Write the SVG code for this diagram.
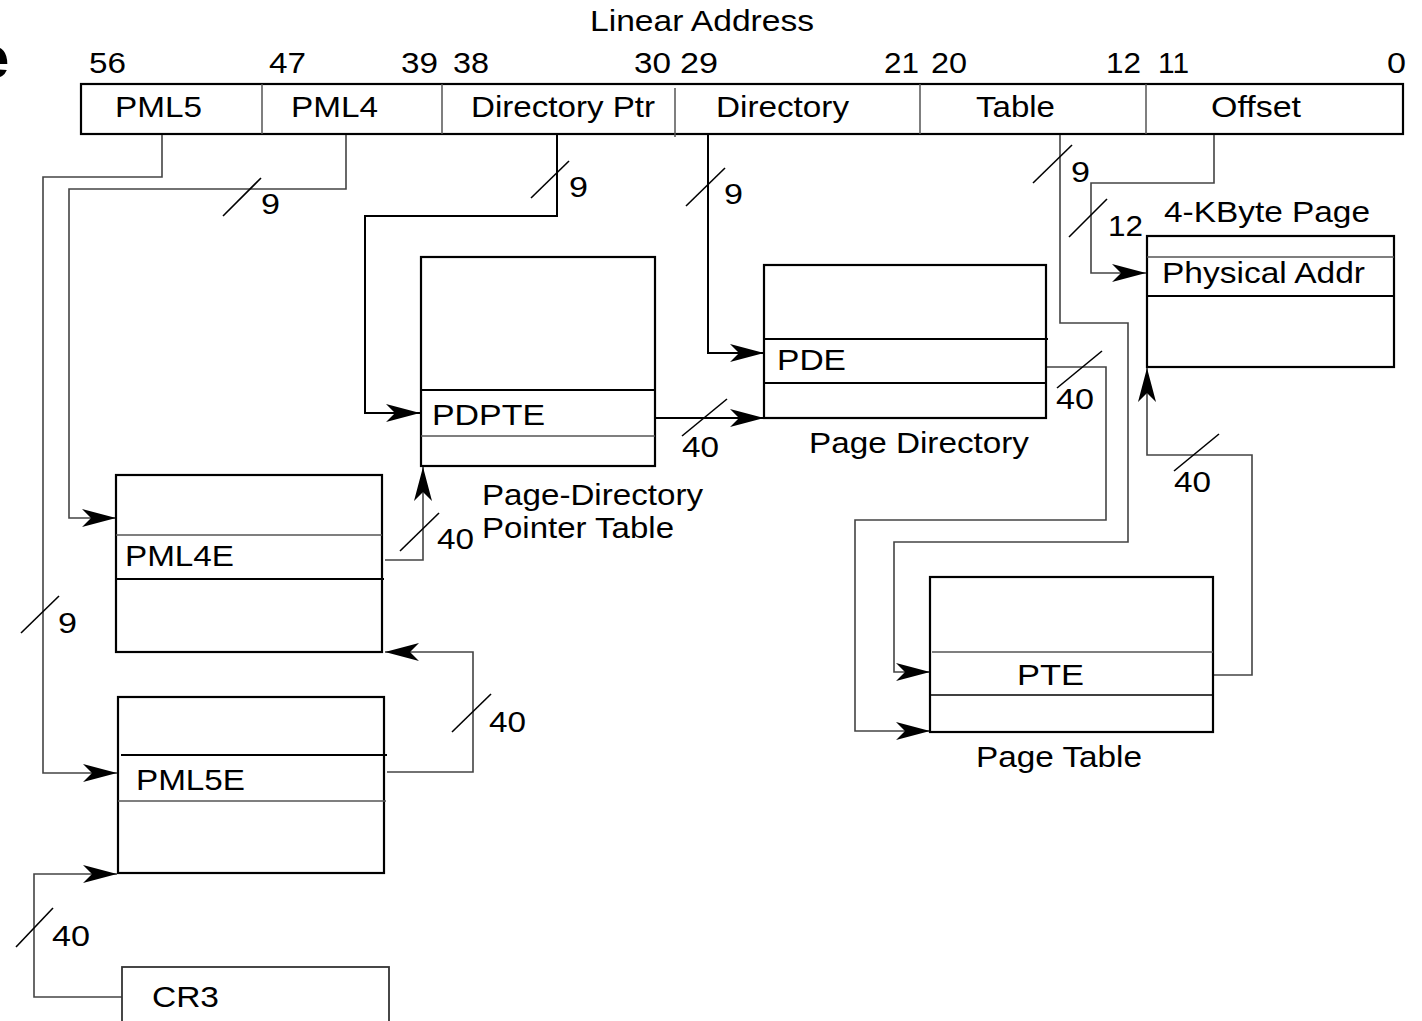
<svg xmlns="http://www.w3.org/2000/svg" width="1422" height="1021" viewBox="0 0 1422 1021">
<style>
  text { font-family: "Liberation Sans", Arial, sans-serif; font-size: 29px; fill: #000; }
  .box { fill: #fff; stroke: #000; stroke-width: 2.2; }
  .sep { stroke: #000; stroke-width: 2; }
  .sepg { stroke: #555; stroke-width: 1.5; }
  .wire { fill: none; stroke: #444; stroke-width: 1.6; }
  .wireb { fill: none; stroke: #000; stroke-width: 2; }
  .arr { marker-end: url(#ah); }
  .slash { stroke: #000; stroke-width: 1.6; }
</style>
<defs>
  <marker id="ah" markerUnits="userSpaceOnUse" markerWidth="36" markerHeight="20" viewBox="0 -10 36 20" refX="34" refY="0" orient="auto">
    <path d="M0,-9 L34,0 L0,9 L9,0 Z" fill="#000"/>
  </marker>
</defs>
<rect width="1422" height="1021" fill="#fff"/>

<text x="-24" y="78" style="font-size:60px;font-weight:bold">e</text>

<g id="linear-address">
  <text x="590" y="31" textLength="224" lengthAdjust="spacingAndGlyphs">Linear Address</text>
  <rect class="box" x="81" y="84" width="1322" height="50"/>
  <line class="sepg" x1="262" y1="84" x2="262" y2="134"/>
  <line class="sepg" x1="442" y1="84" x2="442" y2="134"/>
  <line class="sepg" x1="675" y1="88" x2="675" y2="137"/>
  <line class="sepg" x1="920" y1="84" x2="920" y2="134"/>
  <line class="sepg" x1="1146" y1="84" x2="1146" y2="134"/>
  <text x="89" y="73" textLength="37" lengthAdjust="spacingAndGlyphs">56</text>
  <text x="269" y="73" textLength="37" lengthAdjust="spacingAndGlyphs">47</text>
  <text x="401" y="73" textLength="37" lengthAdjust="spacingAndGlyphs">39</text>
  <text x="453" y="73" textLength="36" lengthAdjust="spacingAndGlyphs">38</text>
  <text x="634" y="73" textLength="37" lengthAdjust="spacingAndGlyphs">30</text>
  <text x="680" y="73" textLength="38" lengthAdjust="spacingAndGlyphs">29</text>
  <text x="884" y="73" textLength="35" lengthAdjust="spacingAndGlyphs">21</text>
  <text x="931" y="73" textLength="36" lengthAdjust="spacingAndGlyphs">20</text>
  <text x="1106" y="73" textLength="35" lengthAdjust="spacingAndGlyphs">12</text>
  <text x="1158" y="73" textLength="31" lengthAdjust="spacingAndGlyphs">11</text>
  <text x="1387" y="73" textLength="19" lengthAdjust="spacingAndGlyphs">0</text>
  <text x="115" y="117" textLength="87" lengthAdjust="spacingAndGlyphs">PML5</text>
  <text x="291" y="117" textLength="87" lengthAdjust="spacingAndGlyphs">PML4</text>
  <text x="471" y="117" textLength="184" lengthAdjust="spacingAndGlyphs">Directory Ptr</text>
  <text x="716" y="117" textLength="133" lengthAdjust="spacingAndGlyphs">Directory</text>
  <text x="976" y="117" textLength="79" lengthAdjust="spacingAndGlyphs">Table</text>
  <text x="1211" y="117" textLength="90" lengthAdjust="spacingAndGlyphs">Offset</text>
</g>

<g id="connectors">
  <path class="wire arr" d="M162,135 V177 H43 V773 H117"/>
  <path class="wire arr" d="M346,135 V189 H69 V518 H116"/>
  <path class="wireb arr" d="M557,135 V216 H365 V413 H420"/>
  <path class="wireb arr" d="M708,135 V353 H764"/>
  <path class="wire arr" d="M1060,135 V323 H1128 V542 H894 V672 H930"/>
  <path class="wire arr" d="M1214,135 V183 H1091 V273 H1146"/>
  <path class="wireb arr" d="M655,418 H764"/>
  <path class="wire arr" d="M1046,367 H1106 V520 H855 V731 H930"/>
  <path class="wire arr" d="M1213,675 H1252 V455 H1147 V368"/>
  <path class="wire arr" d="M385,560 H423 V467"/>
  <path class="wire arr" d="M387,772 H473 V652 H385"/>
  <path class="wire arr" d="M122,997 H34 V874 H117"/>

  <line class="slash" x1="223" y1="216" x2="261" y2="178"/>
  <line class="slash" x1="531" y1="198" x2="569" y2="161"/>
  <line class="slash" x1="686" y1="206" x2="725" y2="168"/>
  <line class="slash" x1="1033" y1="183" x2="1072" y2="145"/>
  <line class="slash" x1="1069" y1="237" x2="1107" y2="199"/>
  <line class="slash" x1="682" y1="436" x2="727" y2="399"/>
  <line class="slash" x1="1057" y1="388" x2="1102" y2="351"/>
  <line class="slash" x1="400" y1="551" x2="439" y2="513"/>
  <line class="slash" x1="21" y1="633" x2="59" y2="596"/>
  <line class="slash" x1="452" y1="732" x2="491" y2="694"/>
  <line class="slash" x1="1174" y1="471" x2="1219" y2="434"/>
  <line class="slash" x1="16" y1="947" x2="53" y2="908"/>

  <text x="261" y="214" textLength="19" lengthAdjust="spacingAndGlyphs">9</text>
  <text x="569" y="197" textLength="19" lengthAdjust="spacingAndGlyphs">9</text>
  <text x="724" y="204" textLength="19" lengthAdjust="spacingAndGlyphs">9</text>
  <text x="1071" y="182" textLength="19" lengthAdjust="spacingAndGlyphs">9</text>
  <text x="1108" y="236" textLength="35" lengthAdjust="spacingAndGlyphs">12</text>
  <text x="682" y="457" textLength="37" lengthAdjust="spacingAndGlyphs">40</text>
  <text x="1056" y="409" textLength="38" lengthAdjust="spacingAndGlyphs">40</text>
  <text x="437" y="549" textLength="37" lengthAdjust="spacingAndGlyphs">40</text>
  <text x="58" y="633" textLength="19" lengthAdjust="spacingAndGlyphs">9</text>
  <text x="489" y="732" textLength="37" lengthAdjust="spacingAndGlyphs">40</text>
  <text x="1174" y="492" textLength="37" lengthAdjust="spacingAndGlyphs">40</text>
  <text x="52" y="946" textLength="38" lengthAdjust="spacingAndGlyphs">40</text>
</g>

<g id="page-4k">
  <text x="1164" y="222" textLength="206" lengthAdjust="spacingAndGlyphs">4-KByte Page</text>
  <rect class="box" x="1147" y="236" width="247" height="131"/>
  <line class="sepg" x1="1147" y1="257" x2="1394" y2="257"/>
  <line class="sep" x1="1147" y1="296" x2="1394" y2="296"/>
  <text x="1162" y="283" textLength="203" lengthAdjust="spacingAndGlyphs">Physical Addr</text>
</g>

<g id="pdpt">
  <rect class="box" x="421" y="257" width="234" height="209"/>
  <line class="sep" x1="421" y1="390" x2="655" y2="390"/>
  <line class="sepg" x1="421" y1="436" x2="655" y2="436"/>
  <text x="432" y="425" textLength="113" lengthAdjust="spacingAndGlyphs">PDPTE</text>
  <text x="482" y="505" textLength="221" lengthAdjust="spacingAndGlyphs">Page-Directory</text>
  <text x="482" y="538" textLength="192" lengthAdjust="spacingAndGlyphs">Pointer Table</text>
</g>

<g id="page-directory">
  <rect class="box" x="764" y="265" width="282" height="153"/>
  <line class="sep" x1="764" y1="339" x2="1048" y2="339"/>
  <line class="sep" x1="764" y1="383" x2="1046" y2="383"/>
  <text x="777" y="370" textLength="69" lengthAdjust="spacingAndGlyphs">PDE</text>
  <text x="809" y="453" textLength="220" lengthAdjust="spacingAndGlyphs">Page Directory</text>
</g>

<g id="pml4-table">
  <rect class="box" x="116" y="475" width="266" height="177"/>
  <line class="sepg" x1="116" y1="535" x2="382" y2="535"/>
  <line class="sep" x1="116" y1="579" x2="384" y2="579"/>
  <text x="125" y="566" textLength="109" lengthAdjust="spacingAndGlyphs">PML4E</text>
</g>

<g id="pml5-table">
  <rect class="box" x="118" y="697" width="266" height="176"/>
  <line class="sep" x1="121" y1="755" x2="387" y2="755"/>
  <line class="sepg" x1="118" y1="801" x2="386" y2="801"/>
  <text x="136" y="790" textLength="109" lengthAdjust="spacingAndGlyphs">PML5E</text>
</g>

<g id="page-table">
  <rect class="box" x="930" y="577" width="283" height="155"/>
  <line class="sepg" x1="932" y1="652" x2="1213" y2="652"/>
  <line class="sep" x1="930" y1="695" x2="1213" y2="695" style="stroke-width:1.5"/>
  <text x="1017" y="685" textLength="67" lengthAdjust="spacingAndGlyphs">PTE</text>
  <text x="976" y="767" textLength="166" lengthAdjust="spacingAndGlyphs">Page Table</text>
</g>

<g id="cr3">
  <rect class="box" x="122" y="967" width="267" height="70" style="stroke:#333;stroke-width:1.8"/>
  <text x="152" y="1007" textLength="67" lengthAdjust="spacingAndGlyphs">CR3</text>
</g>
</svg>
